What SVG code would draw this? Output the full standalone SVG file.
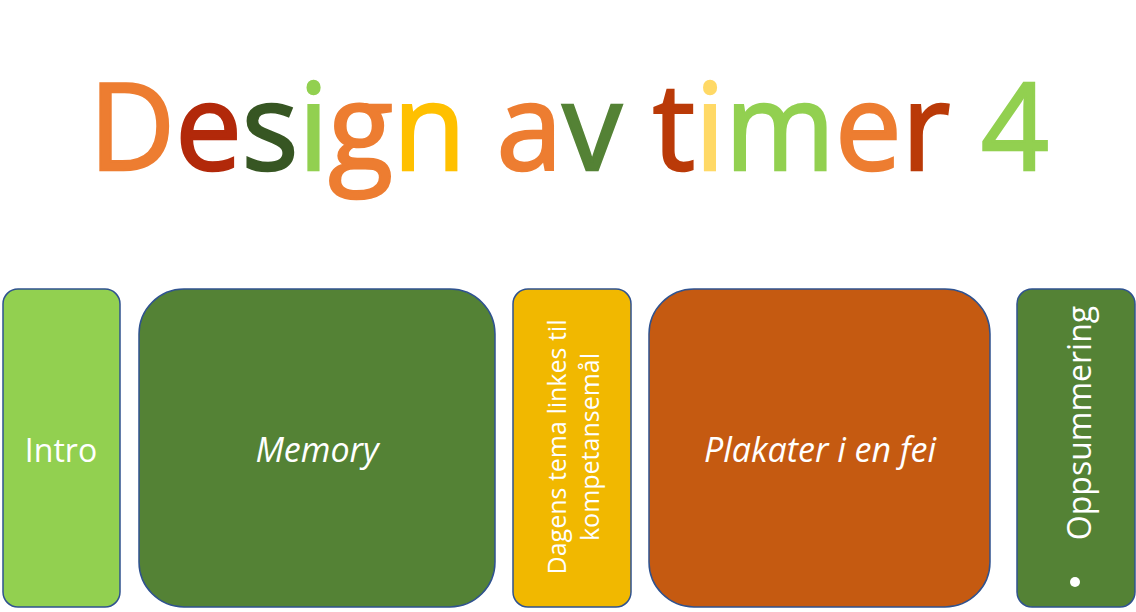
<svg xmlns="http://www.w3.org/2000/svg" width="1136" height="612" viewBox="0 0 1136 612">
<style>
.box{stroke:#2F528F;stroke-width:1.5}
.lbl{font-family:"Open Sans","Liberation Sans",sans-serif;fill:#fff;text-anchor:middle;dominant-baseline:central}
.title{font-family:"Open Sans","Liberation Sans",sans-serif;font-size:120px}
.title tspan{fill:currentColor;stroke:currentColor;stroke-width:2.5}
</style>
<rect width="1136" height="612" fill="#fff"/>
<text class="title" x="89" y="170" textLength="960" lengthAdjust="spacingAndGlyphs"><tspan color="#ED7D31">D</tspan><tspan color="#B2290A">e</tspan><tspan color="#375623">s</tspan><tspan color="#92D050">i</tspan><tspan color="#ED7D31">g</tspan><tspan color="#FFC000">n</tspan> <tspan color="#ED7D31">a</tspan><tspan color="#548235">v</tspan> <tspan color="#BA3A08">t</tspan><tspan color="#FFD966">i</tspan><tspan color="#92D050">m</tspan><tspan color="#ED7D31">e</tspan><tspan color="#BA3A08">r</tspan> <tspan color="#92D050">4</tspan></text>
<g id="intro"><rect class="box" x="3" y="289" width="117" height="318" rx="15" fill="#92D050"/><text class="lbl" x="61" y="449" font-size="32">Intro</text></g>
<g id="memory"><rect class="box" x="139" y="289" width="356" height="318" rx="45" fill="#548235"/><text class="lbl" x="317" y="449" font-size="34" font-style="italic">Memory</text></g>
<g id="dagens"><rect class="box" x="513" y="289" width="118" height="318" rx="15" fill="#F1B800"/><text class="lbl" transform="translate(572 447) rotate(-90)" font-size="25"><tspan x="0" y="-16">Dagens tema linkes til</tspan><tspan x="0" y="17">kompetansemål</tspan></text></g>
<g id="plakater"><rect class="box" x="649" y="289" width="341" height="318" rx="45" fill="#C55A11"/><text class="lbl" x="820" y="449" font-size="34" font-style="italic">Plakater i en fei</text></g>
<g id="oppsummering"><rect class="box" x="1017" y="289" width="118" height="318" rx="15" fill="#548235"/><text class="lbl" transform="translate(1078 423) rotate(-90)" font-size="32">Oppsummering</text><circle cx="1075" cy="582" r="5" fill="#fff"/></g>
<g id="connectors"/>
</svg>
